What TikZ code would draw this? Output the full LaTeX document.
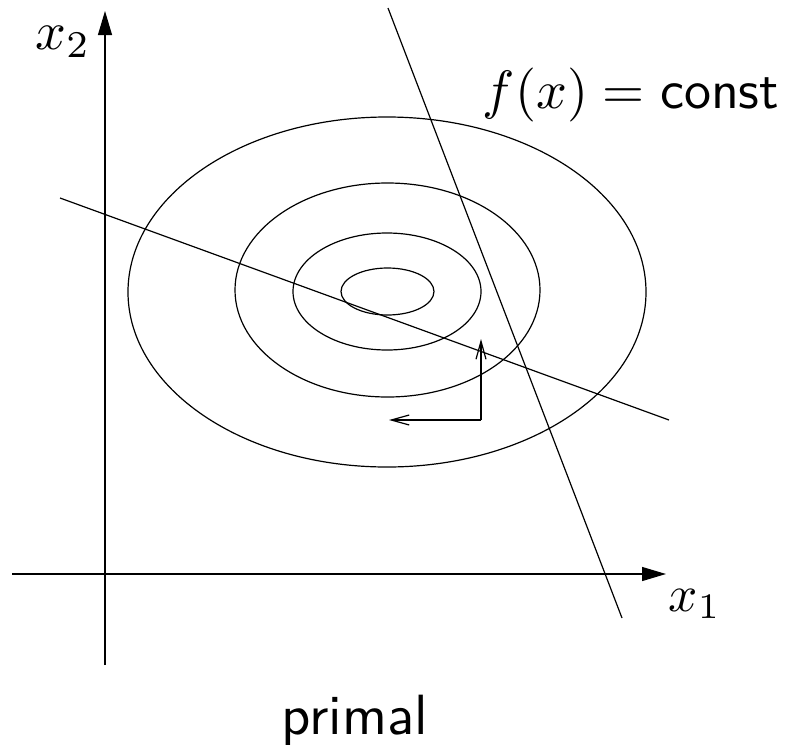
\documentclass[tikz,border=0pt]{standalone}
\usepackage{fix-cm}
\usetikzlibrary{arrows.meta}
\tikzset{
  curve/.style={line width=1.2pt},
  axis/.style={line width=1.2pt,-{Triangle[length=24pt,width=14pt]}},
  smallarrow/.style={line width=1.2pt,-{Straight Barb[length=18pt,width=10pt]}},
  lbl/.style={inner sep=0pt,scale=5.4,font=\normalsize}
}
\begin{document}
\begin{tikzpicture}[x=1pt,y=-1pt]
\useasboundingbox (0,0) rectangle (792,750);
% axes
\coordinate (xs) at (12,574);
\coordinate (xe) at (666,574);
\coordinate (ys) at (105,665);
\coordinate (ye) at (105,11);
\draw[axis] (xs) -- (xe);
\draw[axis] (ys) -- (ye);
\node[lbl,scale=0.95] (x1) at (695,604) {$x_1$};
\node[lbl] (x2) at (63,42) {$x_2$};
% ellipses
\draw[curve] (387,292) ellipse [x radius=259, y radius=175];
\draw[curve] (387.5,290) ellipse [x radius=152.5, y radius=107];
\draw[curve] (387,291.5) ellipse [x radius=94, y radius=58.5];
\draw[curve] (387.5,291.5) ellipse [x radius=46.5, y radius=23.5];
% lines
\coordinate (a1) at (60,198);
\coordinate (a2) at (669,420);
\coordinate (b1) at (388,8);
\coordinate (b2) at (622,618);
\draw[curve] (a1) -- (a2);
\draw[curve] (b1) -- (b2);
% small arrows
\coordinate (k) at (481,420);
\coordinate (ku) at (481,339);
\coordinate (kl) at (389,420);
\draw[smallarrow] (k) -- (ku);
\draw[smallarrow] (k) -- (kl);
% labels
\node[lbl] (fx) at (631,95) {$f(x)=\textsf{const}$};
\node[lbl,scale=1.05] (pr) at (355,720) {\sffamily primal};
\end{tikzpicture}
\end{document}
